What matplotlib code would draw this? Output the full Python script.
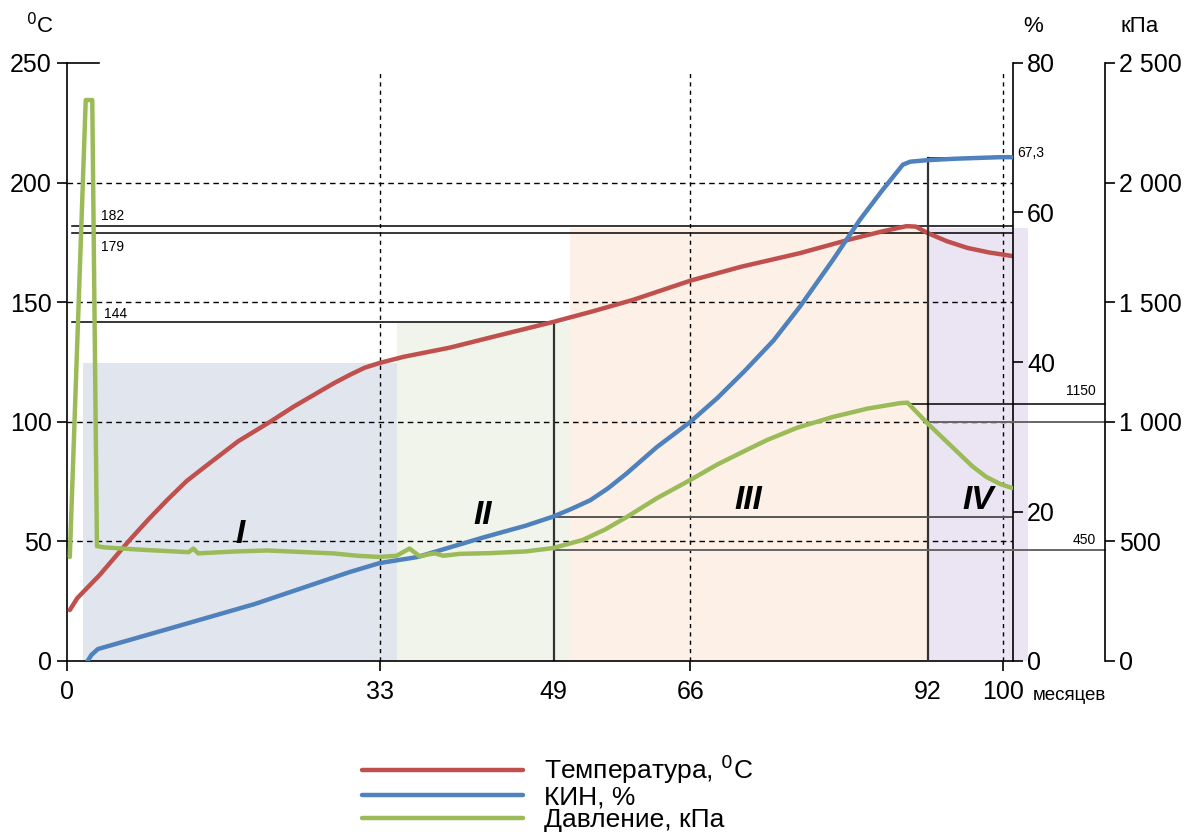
import matplotlib
matplotlib.use("Agg")
import matplotlib.pyplot as plt

plt.rcParams['font.family'] = ['Liberation Sans', 'DejaVu Sans']

# месяцы (ось нарисована по положению на исходном рисунке)
t_x = [0.3, 1.1, 3.5, 6.7, 8.7, 10.7, 12.8, 15, 18.3, 21.7, 24.2, 26.7, 28.5,
       30.2, 31.8, 33.4, 36, 40.9, 46, 51.9, 56, 60.5, 66.6, 72, 78.3, 83.7,
       87, 89.7, 90.7, 91.9, 94, 96.2, 98.5, 101]
t_y = [21.3, 26.3, 36, 50.6, 59.2, 67.3, 75.3, 82, 91.9, 100, 106.3, 112, 116.1,
       119.6, 122.6, 124.6, 127.2, 131, 136, 141.7, 146, 151, 159, 164.8, 170.5, 176.3,
       179.5, 181.8, 181.6, 179, 175.5, 172.7, 170.8, 169.3]

kin_x = [2.2, 2.6, 3.3, 10, 20, 30.2, 33.4, 37.4, 44.4, 49, 51.9, 53.8, 55.9,
         57.8, 59.8, 63, 66.6, 69.5, 72.4, 75.5, 78.3, 81.8, 84.7, 87, 89.3,
         90.1, 91.9, 95, 99.7, 101]
kin_y = [0, 0.8, 1.6, 4.0, 7.6, 11.9, 13.1, 13.9, 16.5, 18.1, 19.3, 20.3, 21.5,
         23.1, 25.1, 28.6, 32, 35.2, 38.8, 42.9, 47.4, 53.6, 59, 62.8, 66.4,
         66.8, 67.0, 67.2, 67.4, 67.4]

p_x = [0.3, 2.0, 2.7, 3.2, 4, 8, 13, 13.5, 14, 18, 21.4, 28.4, 31, 33.4, 35.2,
       36.6, 37.7, 38.5, 39.3, 40.2, 42, 45.2, 49, 51.9, 55.1, 57.5, 59.8, 63,
       66.6, 69.5, 72.6, 74.8, 78, 81.8, 85.5, 89, 89.8, 91.9, 94.3, 96.7,
       98.2, 99.7, 101]
p_y = [435, 2345, 2345, 480, 475, 465, 455, 470, 450, 458, 462, 450, 440, 435, 440,
       470, 437, 445, 450, 440, 448, 451, 458, 472, 506, 550, 602, 680,
       757, 822, 882, 924, 975, 1020, 1055, 1078, 1080, 995, 905, 815,
       770, 740, 723]

stage_x0 = [1.7, 35.3, 53.7, 92.0]
stage_x1 = [35.3, 53.7, 92.0, 102.7]
stage_top = [124.6, 141.3, 181.0, 181.0]
stage_colors = ['#e1e6ee', '#f0f4ea', '#fdf0e6', '#ebe4f2']
stage_names = ['I', 'II', 'III', 'IV']
stage_lx = [18.5, 44.4, 72.8, 97.3]
stage_ly = [52.7, 61, 67.3, 67.3]

tick_pos = [0, 33.4, 52.0, 66.6, 92.0, 100.0]
tick_lab = ['0', '33', '49', '66', '92', '100']
x_max = 101.07

fig = plt.figure(figsize=(11.84, 8.34), dpi=100)
ax = fig.add_axes([67 / 1184, 1 - 661 / 834, (1013 - 67) / 1184, (661 - 63) / 834])
ax2 = ax.twinx()
ax3 = ax.twinx()

ax.set_xlim(0, x_max)
ax.set_ylim(0, 250)
ax2.set_ylim(0, 80)
ax3.set_ylim(0, 2500)

# этапы
for x0, x1, top, c in zip(stage_x0, stage_x1, stage_top, stage_colors):
    ax.fill_between([x0, x1], 0, top, color=c, lw=0, clip_on=False, zorder=0)
for name, lx, ly in zip(stage_names, stage_lx, stage_ly):
    ax.text(lx, ly, name, fontsize=24, fontweight='bold', fontstyle='italic',
            ha='center', va='center', zorder=5)

# сетка
for g in [50, 100, 150, 200]:
    ax.plot([0, x_max], [g, g], color='black', lw=1, ls=(0, (4, 3)), zorder=1)
for v in [33.4, 66.6, 100.0]:
    ax.plot([v, v], [0, 246], color='black', lw=1, ls=(0, (3, 3)), zorder=1)

# опорные линии
ax.plot([0.5, x_max], [181.9, 181.9], color='black', lw=1.1, zorder=2)
ax.plot([0.5, x_max], [178.9, 178.9], color='black', lw=1.1, zorder=2)
ax.plot([0.5, 52.0], [141.7, 141.7], color='black', lw=1.1, zorder=2)
ax.plot([52.0, 52.0], [0, 141.7], color='#333333', lw=1.6, zorder=2)
ax.plot([0, 3.4], [250, 250], color='black', lw=1.2, clip_on=False)
ax.text(3.6, 184.5, '182', fontsize=10)
ax.text(3.6, 176, '179', fontsize=10, va='top')
ax.text(3.9, 143.5, '144', fontsize=10)

ax2.plot([92.0, 92.0], [0, 67.3], color='#333333', lw=1.6, zorder=2)
ax2.plot([92.0, x_max], [67.3, 67.3], color='black', lw=1.1, zorder=2)
ax2.plot([52.0, x_max], [19.3, 19.3], color='#555555', lw=1.4, zorder=2)
ax2.text(x_max + 0.5, 68.0, '67,3', fontsize=10, va='center')

ax3.plot([89.5, 110.9], [1075, 1075], color='black', lw=1.1, clip_on=False)
ax3.plot([92.0, 110.9], [1000, 1000], color='#666666', lw=1.4, clip_on=False)
ax3.plot([52.0, 110.9], [464, 464], color='#666666', lw=1.4, clip_on=False)
ax3.text(108.3, 1130, '1150', fontsize=10, ha='center', va='center')
ax3.text(108.7, 505, '450', fontsize=10, ha='center', va='center')

# кривые
l1, = ax.plot(t_x, t_y, color='#c0504d', lw=3.2, solid_capstyle='round', zorder=4)
l2, = ax2.plot(kin_x, kin_y, color='#4f81bd', lw=3.2, solid_capstyle='round', zorder=4)
l3, = ax3.plot(p_x, p_y, color='#9bbb59', lw=3.2, solid_capstyle='round', zorder=4)

# оси
for s in ['top', 'right']:
    ax.spines[s].set_visible(False)
ax.spines['left'].set_linewidth(1.2)
ax.spines['bottom'].set_linewidth(1.2)
ax.set_xticks(tick_pos)
ax.set_xticklabels(tick_lab)
ax.set_yticks([0, 50, 100, 150, 200, 250])
ax.tick_params(axis='x', length=7, width=1.2, pad=7, labelsize=18)
ax.tick_params(axis='y', length=7, width=1.2, pad=4, labelsize=18)
for i in [2, 4]:
    ax.xaxis.get_major_ticks()[i].tick1line.set_visible(False)

for a in [ax2, ax3]:
    for s in ['top', 'left', 'bottom']:
        a.spines[s].set_visible(False)
    a.spines['right'].set_linewidth(1.2)
    a.tick_params(axis='y', length=7, width=1.2, pad=3, labelsize=18)
ax3.spines['right'].set_position(('axes', (1105 - 67) / (1013 - 67)))
ax2.set_yticks([0, 20, 40, 60, 80])
ax3.set_yticks([0, 500, 1000, 1500, 2000, 2500])
ax3.set_yticklabels(['0', '500', '1 000', '1 500', '2 000', '2 500'])

fig.text(40 / 1184, 1 - 26 / 834, r'$^{0}$C', fontsize=16, ha='center', va='center')
fig.text(1033 / 1184, 1 - 26 / 834, '%', fontsize=16, ha='center', va='center')
fig.text(1140 / 1184, 1 - 26 / 834, 'кПа', fontsize=16, ha='center', va='center')
fig.text(1033 / 1184, 1 - 695 / 834, 'месяцев', fontsize=13.5, ha='left', va='center')

fig.legend([l1, l2, l3], ['Температура, $^{0}$C', 'КИН, %', 'Давление, кПа'],
           loc='upper left', bbox_to_anchor=(362 / 1184, 1 - 753 / 834),
           frameon=False, fontsize=19, handlelength=6.1, handletextpad=0.8,
           labelspacing=-0.05, borderpad=0, borderaxespad=0)

fig.savefig('out.png', dpi=100)
